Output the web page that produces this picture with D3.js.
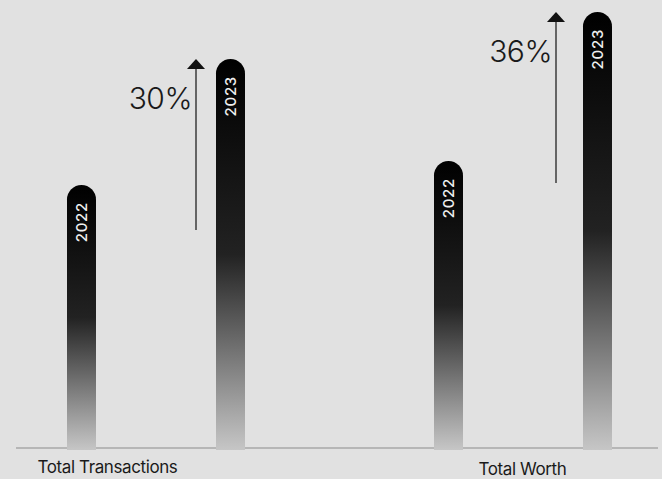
<!DOCTYPE html>
<html>
<head>
<meta charset="utf-8">
<script src="https://cdn.jsdelivr.net/npm/d3@7/dist/d3.min.js"></script>
<style>
  html, body { margin: 0; padding: 0; background: #e1e1e1; }
  svg { display: block; }
  text { font-family: Inter, "Noto Sans", sans-serif; }
</style>
</head>
<body>
<svg id="chart" width="662" height="479"></svg>
<script>
// Year-over-year comparison, indexed so 2022 = 100 in each category
const categories = ["Total Transactions", "Total Worth"];
const years = ["2022", "2023"];
const values2022 = [100, 100];
const values2023 = [130, 136];
// Each category has its own value axis (different units); bars rise from the floor
const axisFloor = [36.9, 30.2];
const axisCeiling = [141.2, 136];

const W = 662, H = 479;
const baseY = 448;     // drawn baseline
const barBottom = 450; // bars end just under the baseline
const plotTop = 12;
const barW = 29;

const svg = d3.select("#chart");

const groupX = d3.scalePoint().domain(categories).range([156, 523]);
const yearX = d3.scalePoint().domain(years).range([-74.5, 74.5]);
const yScales = categories.map((c, i) =>
  d3.scaleLinear().domain([axisFloor[i], axisCeiling[i]]).range([barBottom, plotTop]));

const rows = [];
categories.forEach((c, i) => {
  rows.push({ cat: c, i, year: years[0], value: values2022[i] });
  rows.push({ cat: c, i, year: years[1], value: values2023[i] });
});

// Vertical fade: black at the top to light grey at the foot of each bar
const defs = svg.append("defs");
const grad = defs.append("linearGradient")
  .attr("id", "barFade")
  .attr("x1", 0).attr("y1", 0).attr("x2", 0).attr("y2", 1);
grad.append("stop").attr("offset", "0").attr("stop-color", "#000000");
grad.append("stop").attr("offset", "0.5").attr("stop-color", "#222222");
grad.append("stop").attr("offset", "1").attr("stop-color", "#c6c6c6");

// Baseline
svg.append("line")
  .attr("x1", 16).attr("x2", 658)
  .attr("y1", baseY).attr("y2", baseY)
  .attr("stroke", "#8c8c8c").attr("stroke-width", 1.2);

// Bars with a fully rounded top
function barPath(cx, top, bottom) {
  const r = barW / 2, x0 = cx - r, x1 = cx + r;
  return `M${x0},${bottom} L${x0},${top + r} A${r},${r} 0 0 1 ${x1},${top + r} L${x1},${bottom} Z`;
}

const bars = svg.append("g").selectAll("g.bar")
  .data(rows).join("g").attr("class", "bar");

bars.append("path")
  .attr("d", d => barPath(groupX(d.cat) + yearX(d.year), yScales[d.i](d.value), barBottom))
  .attr("fill", "url(#barFade)");

// Year labels, rotated, near the top of each bar
bars.append("text")
  .attr("transform", d => {
    const cx = groupX(d.cat) + yearX(d.year);
    const top = yScales[d.i](d.value);
    return `translate(${cx + 5.5},${top + 17}) rotate(-90)`;
  })
  .attr("text-anchor", "end")
  .attr("fill", "#f0f0f0")
  .attr("font-size", 15)
  .attr("font-weight", 500)
  .attr("letter-spacing", 0.7)
  .text(d => d.year);

// Growth arrows with percentage labels
const arrowDx = [40, 33];
const arrowLen = 171;
const growth = categories.map((c, i) => ({
  cat: c, i,
  pct: Math.round((values2023[i] / values2022[i] - 1) * 100) + "%",
  tip: yScales[i](values2023[i])
}));

const arrows = svg.append("g").selectAll("g.arrow")
  .data(growth).join("g").attr("class", "arrow");

arrows.append("line")
  .attr("x1", d => groupX(d.cat) + arrowDx[d.i])
  .attr("x2", d => groupX(d.cat) + arrowDx[d.i])
  .attr("y1", d => d.tip + arrowLen)
  .attr("y2", d => d.tip + 8)
  .attr("stroke", "#222").attr("stroke-width", 1.3);

arrows.append("path")
  .attr("d", d => {
    const x = groupX(d.cat) + arrowDx[d.i];
    return `M${x},${d.tip} L${x + 9},${d.tip + 10} L${x - 9},${d.tip + 10} Z`;
  })
  .attr("fill", "#111");

arrows.append("text")
  .attr("x", d => groupX(d.cat) + arrowDx[d.i] - 4)
  .attr("y", d => d.tip + 50)
  .attr("text-anchor", "end")
  .attr("fill", "#1a1a1a")
  .attr("font-size", 30)
  .attr("font-weight", 300)
  .attr("letter-spacing", -0.5)
  .text(d => d.pct);

// Category labels
const labelDx = [-48.5, -0.5];
const labelDy = [473, 475];
svg.append("g").selectAll("text")
  .data(categories).join("text")
  .attr("x", (d, i) => groupX(d) + labelDx[i])
  .attr("y", (d, i) => labelDy[i])
  .attr("text-anchor", "middle")
  .attr("fill", "#1a1a1a")
  .attr("font-size", 17)
  .attr("letter-spacing", -0.4)
  .text(d => d);
</script>
</body>
</html>
